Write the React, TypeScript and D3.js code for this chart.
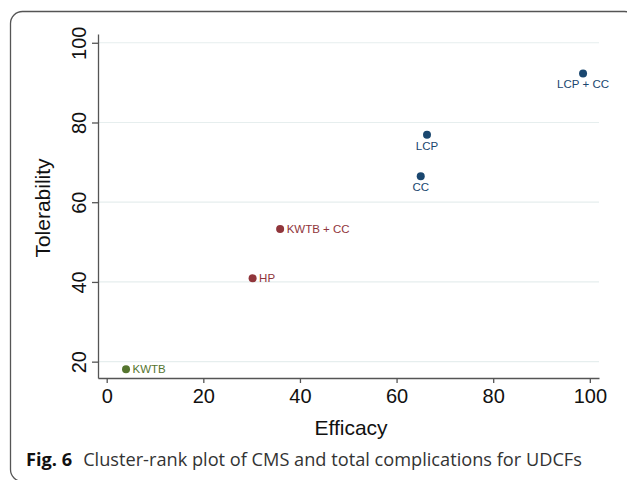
import React, { useEffect, useRef } from "react";
import * as d3 from "d3";

// cluster-rank data
const labels = ["KWTB", "HP", "KWTB + CC", "CC", "LCP", "LCP + CC"];
const efficacy = [4.0, 30.2, 35.9, 65.0, 66.3, 98.6];
const tolerability = [18.1, 40.9, 53.3, 66.5, 76.9, 92.3];
const cluster = [3, 2, 2, 1, 1, 1];
const clusterColors = { 1: "#1a476f", 2: "#90353b", 3: "#55752f" };
const xTicks = [0, 20, 40, 60, 80, 100];
const yTicks = [20, 40, 60, 80, 100];

const W = 627;
const H = 480;
const chartFont = "'Liberation Sans', Arial, Helvetica, sans-serif";

const App = () => {
  const svgRef = useRef<SVGSVGElement>(null);

  useEffect(() => {
    const svg = d3.select(svgRef.current);
    svg.selectAll("*").remove();

    // outer figure frame (right/bottom run off the page)
    svg
      .append("rect")
      .attr("x", 10.5)
      .attr("y", 11.5)
      .attr("width", 626)
      .attr("height", 470)
      .attr("rx", 12)
      .attr("fill", "none")
      .attr("stroke", "#555")
      .attr("stroke-width", 1.3);

    const x = d3.scaleLinear().domain([-1.8, 101.9]).range([98, 599]);
    const y = d3.scaleLinear().domain([15.9, 102.2]).range([378, 34]);

    // grid
    svg
      .append("g")
      .selectAll("line")
      .data(yTicks)
      .join("line")
      .attr("x1", x.range()[0])
      .attr("x2", x.range()[1])
      .attr("y1", (d) => y(d))
      .attr("y2", (d) => y(d))
      .attr("stroke", "#e6eeee")
      .attr("stroke-width", 1.2);

    // x axis
    const gx = svg
      .append("g")
      .attr("transform", `translate(0,${y.range()[0]})`)
      .call(d3.axisBottom(x).tickValues(xTicks).tickSize(5).tickSizeOuter(0).tickPadding(6));
    gx.selectAll("path, line").attr("stroke", "#555").attr("stroke-width", 1.3);
    gx.selectAll("text")
      .attr("fill", "#111")
      .style("font-family", chartFont)
      .style("font-size", "20px");

    // y axis, labels rotated like Stata
    const gy = svg
      .append("g")
      .attr("transform", `translate(${x.range()[0]},0)`)
      .call(d3.axisLeft(y).tickValues(yTicks).tickSize(6).tickSizeOuter(0));
    gy.selectAll("path, line").attr("stroke", "#555").attr("stroke-width", 1.3);
    gy.selectAll("text")
      .attr("x", null)
      .attr("dy", null)
      .attr("text-anchor", "middle")
      .attr("transform", "translate(-12,0) rotate(-90)")
      .attr("fill", "#111")
      .style("font-family", chartFont)
      .style("font-size", "20px");

    // axis titles
    svg
      .append("text")
      .attr("x", 351)
      .attr("y", 435)
      .attr("text-anchor", "middle")
      .attr("fill", "#111")
      .style("font-family", chartFont)
      .style("font-size", "21px")
      .text("Efficacy");

    svg
      .append("text")
      .attr("transform", `translate(50,${(y.range()[0] + y.range()[1]) / 2 + 2}) rotate(-90)`)
      .attr("text-anchor", "middle")
      .attr("fill", "#111")
      .style("font-family", chartFont)
      .style("font-size", "21px")
      .text("Tolerability");

    // points
    const pts = labels.map((l, i) => ({
      label: l,
      ex: efficacy[i],
      tol: tolerability[i],
      c: cluster[i],
    }));

    const g = svg.append("g");
    g.selectAll("circle")
      .data(pts)
      .join("circle")
      .attr("cx", (d) => x(d.ex))
      .attr("cy", (d) => y(d.tol))
      .attr("r", 4)
      .attr("fill", (d) => clusterColors[d.c]);

    g.selectAll("text")
      .data(pts)
      .join("text")
      .attr("x", (d) => x(d.ex) + (d.c === 1 ? 0 : 6.5))
      .attr("y", (d) => y(d.tol) + (d.c === 1 ? 15 : 4))
      .attr("text-anchor", (d) => (d.c === 1 ? "middle" : "start"))
      .attr("fill", (d) => clusterColors[d.c])
      .style("font-family", chartFont)
      .style("font-size", "11.5px")
      .text((d) => d.label);

    // figure caption
    const cap = svg
      .append("text")
      .attr("x", 26)
      .attr("y", 466)
      .style("font-family", "'Open Sans', 'Noto Sans', sans-serif")
      .style("font-size", "18.2px");
    cap.append("tspan").attr("font-weight", "bold").attr("fill", "#111").text("Fig. 6");
    cap
      .append("tspan")
      .attr("dx", 11)
      .attr("fill", "#333")
      .text("Cluster-rank plot of CMS and total complications for UDCFs");
  }, []);

  return (
    <svg
      ref={svgRef}
      width={W}
      height={H}
      style={{ position: "absolute", left: 0, top: 0, background: "#fff" }}
    />
  );
};

export default App;
